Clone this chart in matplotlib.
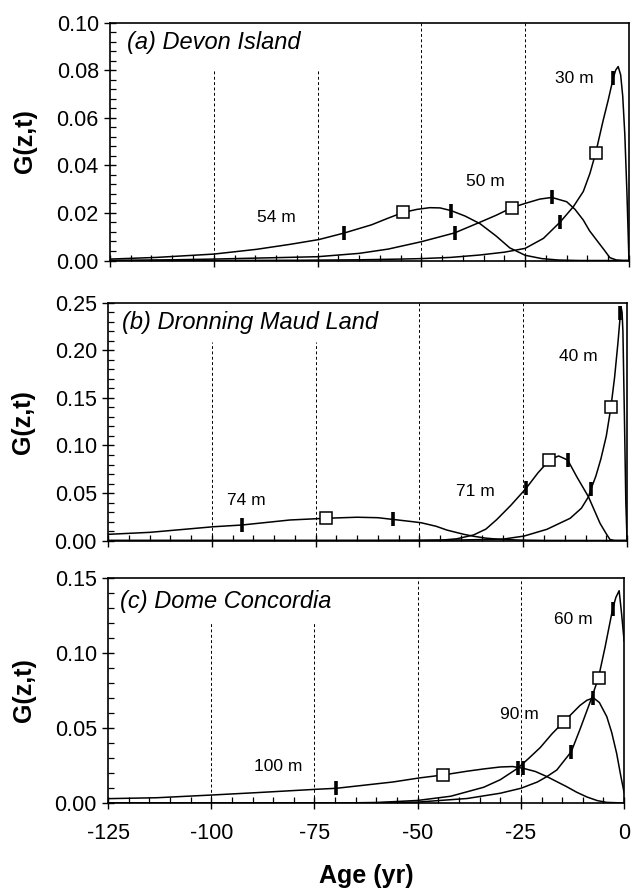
import numpy as np
import matplotlib
matplotlib.use("Agg")
import matplotlib.pyplot as plt
from matplotlib.ticker import MultipleLocator, FormatStrFormatter

plt.rcParams['font.family'] = ['Liberation Sans', 'DejaVu Sans']
plt.rcParams['axes.unicode_minus'] = False

# ---- (a) Devon Island ----
age30 = [-125, -100, -80, -65, -55, -50, -43, -36, -30, -25, -20.6, -16.5, -13.4, -11, -9.4, -8,
         -6.2, -5, -3.8, -3.2, -2.6, -2.0, -1.5, -1.0, -0.5, 0]
g30 = [0, 0, 0.0001, 0.0003, 0.0006, 0.0008, 0.0013, 0.0023, 0.0035, 0.0051, 0.0093, 0.0163, 0.0226,
       0.029, 0.0366, 0.0453, 0.059, 0.0674, 0.0766, 0.080, 0.0815, 0.078, 0.069, 0.053, 0.029, 0.0]
age50 = [-125, -110, -100, -90, -75, -65, -58, -50, -42, -36, -32, -28.2, -25, -21.5, -18.6, -15,
         -13, -11, -9.5, -7.8, -6, -4.6, -3, -1.5, 0]
g50 = [0.0, 0.0003, 0.0006, 0.001, 0.0016, 0.003, 0.0048, 0.0079, 0.0116, 0.016, 0.019, 0.0222, 0.024,
       0.0258, 0.0265, 0.0247, 0.0215, 0.017, 0.0125, 0.0086, 0.0045, 0.0012, 0.0002, 0, 0]
age54 = [-125, -113.8, -100, -89.7, -81.6, -74.7, -68.7, -62, -58, -54.4, -51, -48, -45.5, -42.9,
         -39.5, -35.9, -32, -28.7, -25, -21, -17, -12, 0]
g54 = [0.0006, 0.0013, 0.0027, 0.0047, 0.0068, 0.0088, 0.0115, 0.015, 0.0178, 0.0202, 0.0215, 0.0222,
       0.0221, 0.0210, 0.0187, 0.0155, 0.0103, 0.0053, 0.0022, 0.0008, 0.0002, 0, 0]
sq_age_a = [-54.4, -28.2, -8.0]
sq_g_a = [0.0202, 0.0222, 0.0453]
q_age_a = [-68.7, -42.9, -42.0, -18.6, -16.5, -3.8]
q_g_a = [0.0115, 0.0210, 0.0116, 0.0265, 0.0163, 0.0766]

# ---- (b) Dronning Maud Land ----
age40 = [-125, -80, -60, -50, -40, -35, -29.8, -24.8, -19.3, -13.7, -11, -9.3, -8.7, -7.5, -6.3, -5,
         -3.9, -3, -2.2, -1.6, -1.45, -1.2, -1.0, -0.6, -0.3, 0]
g40 = [0, 0, 0.0001, 0.0003, 0.0006, 0.001, 0.0015, 0.0047, 0.0118, 0.0234, 0.034, 0.046, 0.054, 0.068,
       0.086, 0.110, 0.140, 0.172, 0.208, 0.239, 0.246, 0.24, 0.22, 0.12, 0.04, 0]
age71 = [-125, -50, -45, -41, -37, -34, -31.4, -28, -24.3, -21.5, -18.7, -16.5, -14.3, -12.1, -10.5,
         -9.3, -8, -6.5, -5, -4.1, -3, 0]
g71 = [0, 0, 0.0003, 0.0018, 0.0058, 0.012, 0.022, 0.037, 0.055, 0.071, 0.0847, 0.089, 0.0847, 0.067,
       0.055, 0.046, 0.033, 0.018, 0.007, 0.001, 0, 0]
age74 = [-125, -114.9, -99.6, -92.8, -81.2, -72.6, -65, -60, -56.4, -52, -49.6, -46, -43.4, -39.3,
         -37, -34, -30.6, -26, -20, 0]
g74 = [0.0065, 0.0086, 0.0145, 0.0163, 0.0216, 0.0234, 0.0245, 0.024, 0.0222, 0.0200, 0.0187, 0.015,
       0.011, 0.0065, 0.0045, 0.0025, 0.0012, 0.0005, 0.0001, 0]
sq_age_b = [-72.6, -18.7, -3.9]
sq_g_b = [0.0234, 0.0847, 0.140]
q_age_b = [-92.8, -56.4, -24.3, -14.3, -8.7, -1.6]
q_g_b = [0.0163, 0.0222, 0.055, 0.0847, 0.054, 0.239]

# ---- (c) Dome Concordia ----
age60 = [-125, -70, -60, -50, -38, -30, -25, -21, -18.7, -16.3, -12.8, -10.7, -8, -6.2, -4.6, -2.8,
         -2.0, -1.2, -0.6, 0]
g60 = [0, 0.0001, 0.0002, 0.0006, 0.003, 0.0065, 0.0098, 0.014, 0.0176, 0.022, 0.0342, 0.049, 0.069,
       0.0836, 0.104, 0.129, 0.137, 0.1415, 0.126, 0.108]
age90 = [-125, -70, -60, -50, -42, -38, -34, -30, -25.8, -23, -20.3, -17.5, -14.6, -12.5, -10.7, -9,
         -7.4, -6, -4.2, -3, -1.8, -0.8, 0]
g90 = [0, 0, 0.0003, 0.0017, 0.0045, 0.0075, 0.0105, 0.0155, 0.0231, 0.030, 0.037, 0.046, 0.0542,
       0.060, 0.065, 0.0685, 0.070, 0.067, 0.0576, 0.047, 0.033, 0.018, 0.007]
age100 = [-125, -113.2, -100, -89, -74.8, -69.7, -64.8, -56, -49.6, -43.8, -38, -34, -30, -27, -24.4,
          -21.5, -18.7, -16.5, -14, -11.5, -9, -6.5, -4.2, 0]
g100 = [0.0029, 0.0035, 0.0053, 0.0069, 0.0091, 0.0098, 0.0113, 0.014, 0.0167, 0.0187, 0.0212, 0.0227,
        0.0240, 0.0243, 0.0231, 0.021, 0.0176, 0.0145, 0.011, 0.0072, 0.0040, 0.0016, 0.0004, 0]
sq_age_c = [-43.8, -14.6, -6.2]
sq_g_c = [0.0187, 0.0542, 0.0836]
q_age_c = [-69.7, -24.4, -25.8, -7.6, -12.8, -2.8]
q_g_c = [0.0098, 0.0231, 0.0231, 0.0700, 0.0342, 0.129]

panels = [
    dict(title="(a) Devon Island", ymax=0.10, major=0.02, minor=0.004, dash_top=0.8,
         curves=[(age30, g30), (age50, g50), (age54, g54)],
         squares=(sq_age_a, sq_g_a), quart=(q_age_a, q_g_a),
         labels=[("54 m", -85, 0.0179), ("50 m", -34.5, 0.0331), ("30 m", -13.2, 0.0766)],
         rect=[0.174, 0.7086, 0.8212, 0.2662], tpos=(0.032, 0.914)),
    dict(title="(b) Dronning Maud Land", ymax=0.25, major=0.05, minor=0.01, dash_top=0.834,
         curves=[(age40, g40), (age71, g71), (age74, g74)],
         squares=(sq_age_b, sq_g_b), quart=(q_age_b, q_g_b),
         labels=[("74 m", -91.7, 0.042), ("71 m", -36.6, 0.0514), ("40 m", -11.7, 0.194)],
         rect=[0.171, 0.3954, 0.8212, 0.2657], tpos=(0.026, 0.916)),
    dict(title="(c) Dome Concordia", ymax=0.15, major=0.05, minor=0.01, dash_top=0.8,
         curves=[(age60, g60), (age90, g90), (age100, g100)],
         squares=(sq_age_c, sq_g_c), quart=(q_age_c, q_g_c),
         labels=[("100 m", -83.8, 0.0242), ("90 m", -25.4, 0.0593), ("60 m", -12.3, 0.122)],
         rect=[0.171, 0.1018, 0.8165, 0.2517], tpos=(0.024, 0.895)),
]

fig = plt.figure(figsize=(6.32, 8.94), dpi=100)

for i, p in enumerate(panels):
    ax = fig.add_axes(p["rect"])
    ax.set_xlim(-125, 0)
    ax.set_ylim(0, p["ymax"])

    for xv in [-100, -75]:
        ax.axvline(xv, ymin=0, ymax=p["dash_top"], color="black", lw=0.7,
                   ls=(0, (3, 2.5)), zorder=1)
    for xv in [-50, -25]:
        ax.axvline(xv, color="black", lw=0.7, ls=(0, (3, 2.5)), zorder=1)

    for a, g in p["curves"]:
        ax.plot(a, g, color="black", lw=1.1, zorder=3)

    ax.plot(p["quart"][0], p["quart"][1], ls="none", marker="|", ms=10, mew=2.6,
            color="black", zorder=4)
    ax.plot(p["squares"][0], p["squares"][1], ls="none", marker="s", ms=8.5, mew=1.1,
            mfc="white", mec="black", zorder=5)

    for txt, x, y in p["labels"]:
        ax.text(x, y, txt, ha="center", va="center", fontsize=12.5)

    ax.text(p["tpos"][0], p["tpos"][1], p["title"], transform=ax.transAxes,
            fontsize=17, style="italic", ha="left", va="center")

    ax.xaxis.set_major_locator(MultipleLocator(25))
    ax.xaxis.set_minor_locator(MultipleLocator(5))
    ax.yaxis.set_major_locator(MultipleLocator(p["major"]))
    ax.yaxis.set_minor_locator(MultipleLocator(p["minor"]))
    ax.yaxis.set_major_formatter(FormatStrFormatter("%.2f"))
    ax.tick_params(which="major", direction="inout", length=9, width=1.0,
                   labelsize=15.5, top=False, right=False)
    ax.tick_params(axis="x", which="major", pad=10)
    ax.tick_params(which="minor", direction="in", length=4.5, width=0.9,
                   top=False, right=False)
    for s in ax.spines.values():
        s.set_linewidth(1.2)

    ax.set_ylabel("G(z,t)", fontsize=18, fontweight="bold")
    ax.yaxis.set_label_coords(-0.14, 0.5)

    if i < 2:
        ax.tick_params(axis="x", labelbottom=False)
    else:
        ax.set_xlabel("Age (yr)", fontsize=18, fontweight="bold")
        ax.xaxis.set_label_coords(0.5, -0.27)

fig.savefig("out.png", dpi=100)
